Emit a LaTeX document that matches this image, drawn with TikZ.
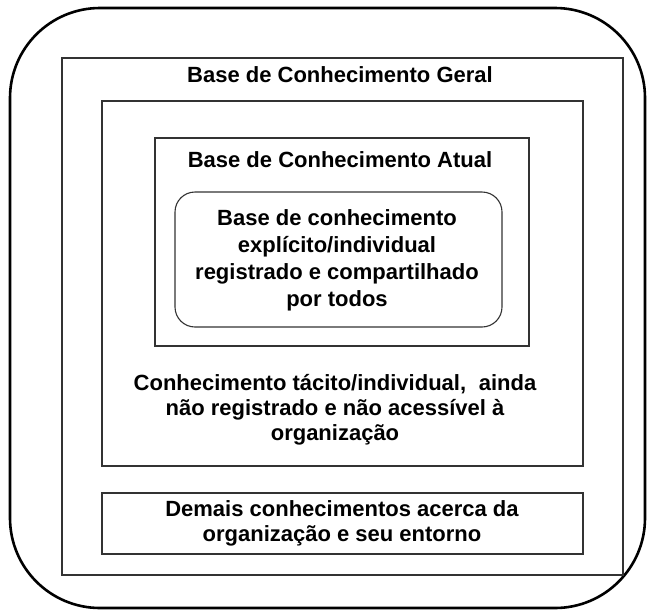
\documentclass[tikz,border=0pt]{standalone}
\usepackage{fontspec}
\setmainfont{Liberation Sans}
\usetikzlibrary{positioning}

\begin{document}
\begin{tikzpicture}[
  x=1pt, y=-1pt,
  frame/.style={
    draw,
    line width=2.6pt,
    rounded corners=90pt,
    minimum width=635pt,
    minimum height=600pt
  },
  box/.style={
    draw=black!80,
    line width=1.3pt,
    inner sep=0pt
  },
  roundbox/.style={
    box,
    line width=1.1pt,
    rounded corners=20pt
  },
  txt/.style={
    font=\bfseries\fontsize{22}{25}\selectfont,
    align=center,
    inner sep=0pt
  }
]
\useasboundingbox (0,0) rectangle (653,614);

% Frames
\node[frame] (outer) at (327.5,308) {};
\node[box, minimum width=561pt, minimum height=517pt] (geral) at (342.5,316.5) {};
\node[box, minimum width=481pt, minimum height=365pt] (tacito) at (342.5,283.5) {};
\node[box, minimum width=374pt, minimum height=208pt] (atual) at (342,242) {};
\node[roundbox, minimum width=327pt, minimum height=135pt] (explicito) at (338.5,259.5) {};
\node[box, minimum width=481pt, minimum height=61pt] (demais) at (342.5,523.5) {};

% Texts
\node[txt] (tgeral) at (340,75) {Base de Conhecimento Geral};
\node[txt] (tatual) at (340,160) {Base de Conhecimento Atual};
\node[txt, font=\bfseries\fontsize{22}{27}\selectfont] (texplicito) at (337,260)
  {Base de conhecimento\\explícito/individual\\registrado e compartilhado\\por todos};
\node[txt] (ttacito) at (335,410)
  {Conhecimento tácito/individual,\hspace{0.3em} ainda\\não registrado e não acessível à\\organização};
\node[txt] (tdemais) at (342,523)
  {Demais conhecimentos acerca da\\organização e seu entorno};

\end{tikzpicture}
\end{document}
